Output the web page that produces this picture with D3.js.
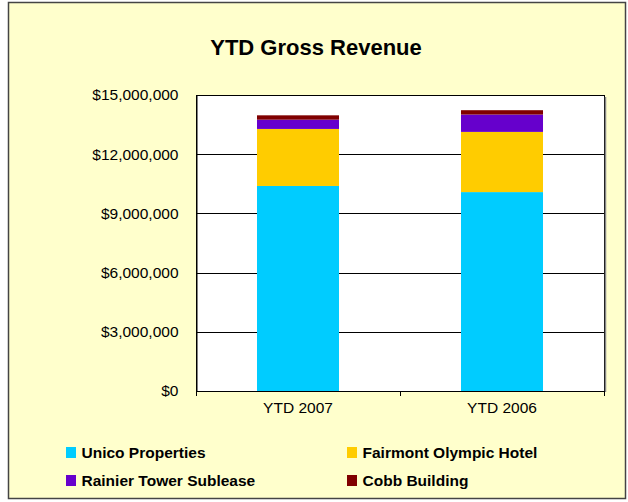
<!DOCTYPE html>
<html lang="en">
    <head>
        <meta charset="utf-8">
        <title>YTD Gross Revenue</title>
        <script type="text/javascript" src="https://d3js.org/d3.v7.min.js"></script>
        <style>
            body { margin: 0; background: #ffffff; }
            text { font-family: Arial, "Liberation Sans", sans-serif; fill: #000; }
            .grid line { stroke: #000; stroke-width: 1; }
        </style>
    </head>
    <body>
        <svg id="chart" width="628" height="502"></svg>
    </body>
    <script>
        // data
        let categories = ["YTD 2007", "YTD 2006"];
        let seriesNames = ["Unico Properties", "Fairmont Olympic Hotel", "Rainier Tower Sublease", "Cobb Building"];
        let unico = [10390000, 10080000];
        let fairmont = [2890000, 3050000];
        let rainier = [470000, 880000];
        let cobb = [220000, 220000];
        let yTicks = [0, 3000000, 6000000, 9000000, 12000000, 15000000];
        let colors = ["#00ccff", "#ffcc00", "#6600cc", "#800000"];

        let svg = d3.select("#chart");

        // outer frame
        svg.append("rect")
            .attr("x", 8.5).attr("y", 2.5)
            .attr("width", 617).attr("height", 496)
            .attr("fill", "#ffffcc")
            .attr("stroke", "#444")
            .attr("stroke-width", 1.5);

        let plotLeft = 196, plotRight = 604, plotTop = 95, plotBottom = 391;

        let x = d3.scaleBand()
            .domain(categories)
            .range([plotLeft, plotRight])
            .paddingInner(0.598)
            .paddingOuter(0.299);

        let y = d3.scaleLinear()
            .domain([0, 15000000])
            .range([plotBottom, plotTop]);

        // plot area
        svg.append("rect")
            .attr("x", plotLeft + 0.5).attr("y", plotTop + 0.5)
            .attr("width", plotRight - plotLeft).attr("height", plotBottom - plotTop)
            .attr("fill", "#fff")
            .attr("stroke", "#000");
        svg.append("line")
            .attr("x1", plotRight + 1.5).attr("x2", plotRight + 1.5)
            .attr("y1", plotTop + 2).attr("y2", plotBottom + 1)
            .attr("stroke", "#888").attr("stroke-width", 1.5);

        // gridlines
        svg.append("g")
            .attr("class", "grid")
            .selectAll("line")
            .data(yTicks)
            .enter()
            .append("line")
            .attr("x1", plotLeft).attr("x2", plotRight)
            .attr("y1", d => Math.round(y(d)) + 0.5)
            .attr("y2", d => Math.round(y(d)) + 0.5);

        // stacked bars
        let rows = categories.map((c, i) => ({
            cat: c, s0: unico[i], s1: fairmont[i], s2: rainier[i], s3: cobb[i]
        }));
        let stack = d3.stack().keys(["s0", "s1", "s2", "s3"])(rows);

        svg.append("g")
            .selectAll("g")
            .data(stack)
            .enter()
            .append("g")
            .attr("fill", (d, i) => colors[i])
            .selectAll("rect")
            .data(d => d)
            .enter()
            .append("rect")
            .attr("x", d => x(d.data.cat))
            .attr("width", x.bandwidth())
            .attr("y", d => y(d[1]))
            .attr("height", d => y(d[0]) - y(d[1]));

        // y axis
        let yAxis = d3.axisLeft(y)
            .tickValues(yTicks)
            .tickSize(0)
            .tickPadding(18)
            .tickFormat(d => "$" + d3.format(",")(d));
        let yg = svg.append("g")
            .attr("transform", `translate(${plotLeft + 0.5},0)`)
            .call(yAxis);
        yg.select(".domain").attr("stroke", "#000");
        yg.selectAll("text")
            .attr("font-size", "15.5px")
            .attr("font-family", "Arial, 'Liberation Sans', sans-serif")
            .attr("fill", "#000");

        // x axis
        let xg = svg.append("g")
            .attr("transform", `translate(0,${plotBottom + 0.5})`)
            .call(d3.axisBottom(x).tickSize(0).tickPadding(10));
        xg.select(".domain").remove();
        xg.selectAll("text")
            .attr("font-size", "15.5px")
            .attr("font-family", "Arial, 'Liberation Sans', sans-serif")
            .attr("fill", "#000");
        // category boundary ticks
        svg.append("g")
            .selectAll("line")
            .data([0, 1, 2])
            .enter()
            .append("line")
            .attr("x1", d => Math.round(plotLeft + d * x.step()) + 0.5)
            .attr("x2", d => Math.round(plotLeft + d * x.step()) + 0.5)
            .attr("y1", plotBottom)
            .attr("y2", plotBottom + 5)
            .attr("stroke", "#000");

        // title
        svg.append("text")
            .attr("x", 316).attr("y", 55)
            .attr("text-anchor", "middle")
            .attr("font-size", "22px")
            .attr("font-weight", "bold")
            .text("YTD Gross Revenue");

        // legend
        let legendPos = [[66, 447], [347, 447], [66, 475], [347, 475]];
        let legend = svg.append("g")
            .selectAll("g")
            .data(seriesNames)
            .enter()
            .append("g")
            .attr("transform", (d, i) => `translate(${legendPos[i][0]},${legendPos[i][1]})`);
        legend.append("rect")
            .attr("width", 10).attr("height", 11)
            .attr("fill", (d, i) => colors[i]);
        legend.append("text")
            .attr("x", 15.5).attr("y", 10.5)
            .attr("font-size", "15.5px")
            .attr("font-weight", "bold")
            .text(d => d);
    </script>
</html>
